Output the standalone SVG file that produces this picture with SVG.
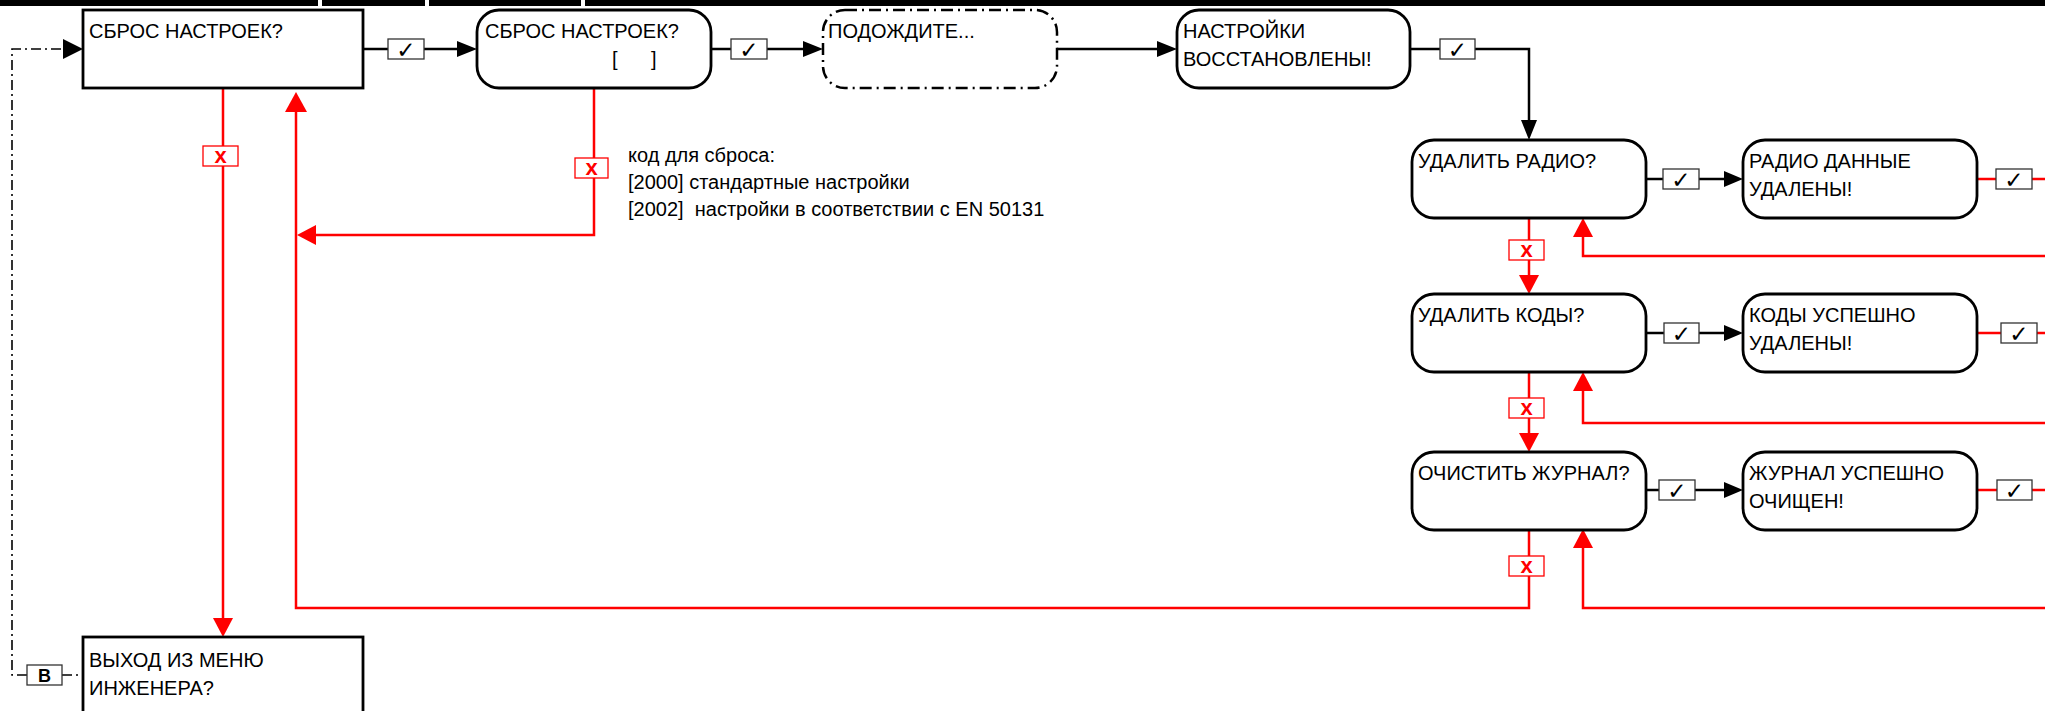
<svg xmlns="http://www.w3.org/2000/svg" width="2045" height="711" viewBox="0 0 2045 711">
<style>
.node{fill:#fff;stroke:#000;stroke-width:2.8}
.dd{fill:#fff;stroke:#000;stroke-width:2.5;stroke-dasharray:12 5 2 5}
.t{font-family:"Liberation Sans",Arial,sans-serif;font-size:20px;fill:#000;white-space:pre}
.bl{fill:none;stroke:#000;stroke-width:2.5}
.rd{fill:none;stroke:#f00;stroke-width:2.5}
.dl{fill:none;stroke:#000;stroke-width:1.6;stroke-dasharray:10 4 2 4}
.ah{fill:#000}
.ahr{fill:#f00}
.ck{fill:#fff;stroke:#333;stroke-width:1.3}
.ckt{font-family:"DejaVu Sans",sans-serif;font-size:23px;fill:#000;text-anchor:middle}
.xb{fill:#fff;stroke:#f00;stroke-width:1.3}
.xt{font-family:"Liberation Sans",Arial,sans-serif;font-size:22px;font-weight:bold;fill:#f00;text-anchor:middle}
</style>
<g id="header">
<rect x="0" y="0" width="2045" height="6" fill="#000"/>
<rect x="318" y="0" width="4" height="6" fill="#fff"/>
<rect x="425" y="0" width="4" height="6" fill="#fff"/>
<rect x="581" y="0" width="4" height="6" fill="#fff"/>
</g>
<g id="connectors">
<path class="bl" d="M363,49 H458"/>
<polygon class="ah" points="457,41 477,49 457,57"/>
<path class="bl" d="M711,49 H804"/>
<polygon class="ah" points="803,41 823,49 803,57"/>
<path class="bl" d="M1057,49 H1158"/>
<polygon class="ah" points="1157,41 1177,49 1157,57"/>
<path class="bl" d="M1410,49 H1529 V121"/>
<polygon class="ah" points="1521,120 1529,140 1537,120"/>
<path class="bl" d="M1646,179 H1725"/>
<polygon class="ah" points="1724,171 1743,179 1724,187"/>
<path class="bl" d="M1646,333 H1725"/>
<polygon class="ah" points="1724,325 1743,333 1724,341"/>
<path class="bl" d="M1646,490 H1725"/>
<polygon class="ah" points="1724,482 1743,490 1724,498"/>
<path class="rd" d="M1977,179 H2045"/>
<path class="rd" d="M1977,333 H2045"/>
<path class="rd" d="M1977,490 H2045"/>
<path class="rd" d="M2045,256 H1583 V236"/>
<polygon class="ahr" points="1573,237 1583,218 1593,237"/>
<path class="rd" d="M2045,423 H1583 V390"/>
<polygon class="ahr" points="1573,391 1583,372 1593,391"/>
<path class="rd" d="M2045,608 H1583 V547"/>
<polygon class="ahr" points="1573,548 1583,529 1593,548"/>
<path class="rd" d="M1529,218 V276"/>
<polygon class="ahr" points="1519,275 1529,294 1539,275"/>
<path class="rd" d="M1529,372 V434"/>
<polygon class="ahr" points="1519,433 1529,452 1539,433"/>
<path class="rd" d="M1529,530 V608 H296 V111"/>
<polygon class="ahr" points="285,112 296,92 307,112"/>
<path class="rd" d="M223,88 V619"/>
<polygon class="ahr" points="213,618 223,637 233,618"/>
<path class="rd" d="M594,88 V235 H315"/>
<polygon class="ahr" points="316,225 297,235 316,245"/>
<path class="dl" d="M27,675 H12 V49 H64"/>
<polygon class="ah" points="63,39 83,49 63,59"/>
<path class="dl" d="M62,675 H83"/>
<rect class="ck" x="388" y="39" width="36" height="20"/><text class="ckt" x="406" y="58">✓</text>
<rect class="ck" x="731" y="39" width="36" height="20"/><text class="ckt" x="749" y="58">✓</text>
<rect class="ck" x="1440" y="39" width="35" height="20"/><text class="ckt" x="1457.5" y="58">✓</text>
<rect class="ck" x="1663" y="169" width="36" height="20"/><text class="ckt" x="1681" y="188">✓</text>
<rect class="ck" x="1664" y="323" width="35" height="20"/><text class="ckt" x="1681.5" y="342">✓</text>
<rect class="ck" x="1659" y="480" width="36" height="20"/><text class="ckt" x="1677" y="499">✓</text>
<rect class="ck" x="1996" y="169" width="36" height="20"/><text class="ckt" x="2014" y="188">✓</text>
<rect class="ck" x="2001" y="323" width="36" height="20"/><text class="ckt" x="2019" y="342">✓</text>
<rect class="ck" x="1997" y="480" width="35" height="20"/><text class="ckt" x="2014.5" y="499">✓</text>
<rect class="xb" x="203" y="146" width="35" height="20"/><text class="xt" x="220.5" y="163">x</text>
<rect class="xb" x="575" y="158" width="33" height="20"/><text class="xt" x="591.5" y="175">x</text>
<rect class="xb" x="1509" y="240" width="35" height="20"/><text class="xt" x="1526.5" y="257">x</text>
<rect class="xb" x="1509" y="398" width="35" height="20"/><text class="xt" x="1526.5" y="415">x</text>
<rect class="xb" x="1509" y="556" width="35" height="20"/><text class="xt" x="1526.5" y="573">x</text>
<rect class="ck" x="27" y="665" width="35" height="20"/>
<text x="44.5" y="682" style="font-family:'Liberation Sans',Arial,sans-serif;font-size:18px;font-weight:bold;text-anchor:middle">B</text>
</g>
<g id="n1"><rect class="node" x="83" y="10" width="280" height="78"/><text class="t" x="89" y="38">СБРОС НАСТРОЕК?</text></g>
<g id="n2"><rect class="node" x="477" y="10" width="234" height="78" rx="22" ry="22"/><text class="t" x="485" y="38">СБРОС НАСТРОЕК?</text><text class="t" x="612" y="66">[      ]</text></g>
<g id="n3"><rect class="dd" x="823" y="10" width="234" height="78" rx="22" ry="22"/><text class="t" x="828" y="38">ПОДОЖДИТЕ...</text></g>
<g id="n4"><rect class="node" x="1177" y="10" width="233" height="78" rx="22" ry="22"/><text class="t" x="1183" y="38">НАСТРОЙКИ</text><text class="t" x="1183" y="66">ВОССТАНОВЛЕНЫ!</text></g>
<g id="n5"><rect class="node" x="1412" y="140" width="234" height="78" rx="22" ry="22"/><text class="t" x="1418" y="168">УДАЛИТЬ РАДИО?</text></g>
<g id="n6"><rect class="node" x="1743" y="140" width="234" height="78" rx="22" ry="22"/><text class="t" x="1749" y="168">РАДИО ДАННЫЕ</text><text class="t" x="1749" y="196">УДАЛЕНЫ!</text></g>
<g id="n7"><rect class="node" x="1412" y="294" width="234" height="78" rx="22" ry="22"/><text class="t" x="1418" y="322">УДАЛИТЬ КОДЫ?</text></g>
<g id="n8"><rect class="node" x="1743" y="294" width="234" height="78" rx="22" ry="22"/><text class="t" x="1749" y="322">КОДЫ УСПЕШНО</text><text class="t" x="1749" y="350">УДАЛЕНЫ!</text></g>
<g id="n9"><rect class="node" x="1412" y="452" width="234" height="78" rx="22" ry="22"/><text class="t" x="1418" y="480">ОЧИСТИТЬ ЖУРНАЛ?</text></g>
<g id="n10"><rect class="node" x="1743" y="452" width="234" height="78" rx="22" ry="22"/><text class="t" x="1749" y="480">ЖУРНАЛ УСПЕШНО</text><text class="t" x="1749" y="508">ОЧИЩЕН!</text></g>
<g id="n11"><rect class="node" x="83" y="637" width="280" height="80"/><text class="t" x="89" y="667">ВЫХОД ИЗ МЕНЮ</text><text class="t" x="89" y="695">ИНЖЕНЕРА?</text></g>
<g id="note"><text class="t" x="628" y="162">код для сброса:</text><text class="t" x="628" y="189">[2000] стандартные настройки</text><text class="t" x="628" y="216">[2002]  настройки в соответствии с EN 50131</text></g>
</svg>
